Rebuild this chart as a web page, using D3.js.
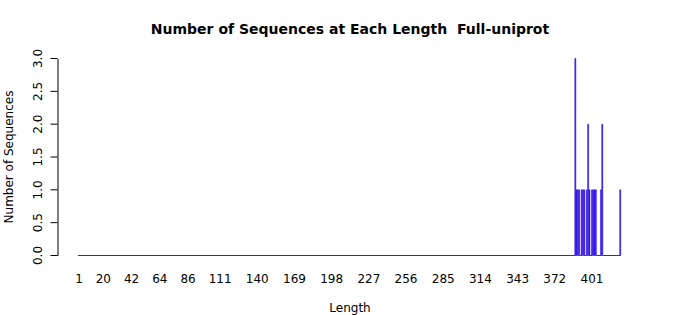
<!DOCTYPE html>
<html>
<head>
<meta charset="utf-8">
<script src="https://cdn.jsdelivr.net/npm/d3@7"></script>
<style>
  body { margin: 0; background: #fff; }
  text { font-family: "DejaVu Sans", sans-serif; fill: #000; white-space: pre; }
</style>
</head>
<body>
<svg id="chart" width="700" height="315"></svg>
<script>
// sequence lengths 1..423, only a few have counts
const maxLength = 423
const seqLengths = [388, 389, 390, 391, 393, 394, 395, 397, 398, 399, 401, 402, 403, 404, 408, 409, 423]
const seqCounts = [3, 1, 1, 1, 1, 1, 1, 1, 2, 1, 1, 1, 1, 1, 1, 2, 1]
const xLabels = [1, 20, 42, 64, 86, 111, 140, 169, 198, 227, 256, 285, 314, 343, 372, 401]
const yTicks = [0, 0.5, 1, 1.5, 2, 2.5, 3]

const categories = d3.range(1, maxLength + 1)
const countByLength = new Map(seqLengths.map((l, i) => [l, seqCounts[i]]))
const data = categories.map((l) => ({ len: l, n: countByLength.get(l) || 0 }))

const svg = d3.select('#chart')

const x = d3
  .scaleBand()
  .domain(categories)
  .range([78.47, 620.75])
  .paddingInner(0.2 / 1.2)
  .paddingOuter(0)
  .align(0)

const y = d3.scaleLinear().domain([0, 3]).range([255.5, 58.5])

// bars as paths; empty lengths draw only their bottom border, which
// joins up into the baseline
svg
  .append('g')
  .selectAll('path')
  .data(data)
  .enter()
  .append('path')
  .attr('d', (d) => {
    const p = d3.path()
    if (d.n > 0) {
      p.rect(x(d.len), y(d.n), x.bandwidth(), y(0) - y(d.n))
    } else {
      p.moveTo(x(d.len), y(0))
      p.lineTo(x(d.len) + x.step(), y(0))
    }
    return p.toString()
  })
  .attr('fill', (d) => (d.n > 0 ? '#2216f0' : 'none'))
  .attr('stroke', (d) => (d.n > 0 ? '#3a12dc' : '#2a2ae6'))
  .attr('stroke-width', (d) => (d.n > 0 ? 0.5 : 1))
  .attr('stroke-linecap', (d) => (d.n > 0 ? null : 'square'))

// y axis
const yAxis = svg
  .append('g')
  .attr('transform', 'translate(57.5,0)')
  .call(d3.axisLeft(y).tickValues(yTicks).tickFormat(d3.format('.1f')).tickSize(7).tickSizeOuter(0))
yAxis.select('.domain').attr('stroke', '#000')
yAxis.selectAll('.tick line').attr('stroke', '#000')
yAxis
  .selectAll('.tick text')
  .attr('font-size', 12)
  .attr('font-family', 'DejaVu Sans, sans-serif')
  .attr('text-anchor', 'middle')
  .attr('transform', (d) => `translate(-20,${y(d)}) rotate(-90)`)
  .attr('x', 0)
  .attr('y', 0)
  .attr('dy', '0.35em')
yAxis.selectAll('.tick').attr('transform', null)
yAxis.selectAll('.tick line').attr('transform', (d) => `translate(0,${y(d)})`)

// x labels (no axis line, no ticks)
svg
  .append('g')
  .selectAll('text')
  .data(xLabels)
  .enter()
  .append('text')
  .attr('x', (d) => x(d) + x.bandwidth() / 2)
  .attr('y', 283)
  .attr('text-anchor', 'middle')
  .attr('font-size', 12)
  .text((d) => d)

svg
  .append('text')
  .attr('x', 350)
  .attr('y', 34)
  .attr('text-anchor', 'middle')
  .attr('font-size', 14)
  .attr('font-weight', 'bold')
  .text('Number of Sequences at Each Length  Full-uniprot')

svg
  .append('text')
  .attr('x', 350)
  .attr('y', 312)
  .attr('text-anchor', 'middle')
  .attr('font-size', 12)
  .text('Length')

svg
  .append('text')
  .attr('transform', 'translate(13,157) rotate(-90)')
  .attr('text-anchor', 'middle')
  .attr('font-size', 12)
  .text('Number of Sequences')
</script>
</body>
</html>
